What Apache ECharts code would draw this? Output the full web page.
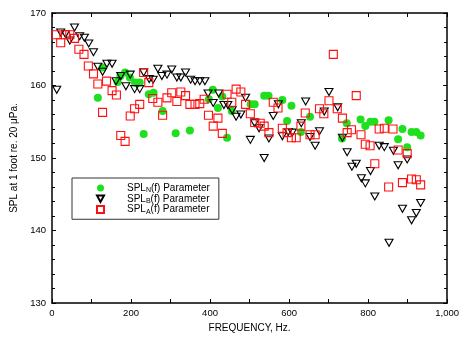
<!DOCTYPE html>
<html><head><meta charset="utf-8">
<script src="https://cdn.jsdelivr.net/npm/echarts@6/dist/echarts.min.js"></script>
<style>html,body{margin:0;padding:0;background:#fff}#c{width:462px;height:339px}</style>
</head><body><div id="c"></div>
<script>
// SPL_N(f) Parameter (green filled circles): [frequency Hz, SPL dB]
const splN = [
[116,158.3],[128,162.5],[166,160.5],[173,161.3],[185,161.8],[197,161.1],[210,160.4],[222,160.4],
[232,153.3],[245,158.8],[257,159.0],[280,156.5],[313,153.4],[349,153.8],[397,158.1],[407,159.4],
[420,156.9],[431,158.5],[443,152.8],[455,156.5],[503,157.4],[513,157.4],[537,158.6],[548,158.6],
[583,158.0],[595,155.1],[606,157.2],[630,153.6],[653,155.7],[734,152.7],[746,154.8],[781,155.3],
[793,154.4],[806,155.0],[816,155.0],[852,155.2],[876,152.6],[887,154.0],[899,151.5],[910,153.6],
[922,153.6],[933,153.1]
];
// SPL_B(f) Parameter (hollow down triangles)
const splB = [
[12,159.4],[22,167.3],[34,167.1],[45,166.2],[57,168.0],[70,166.8],[82,166.6],[93,165.8],
[105,164.6],[116,162.6],[128,161.9],[139,163.0],[152,163.0],[162,160.6],[174,161.3],[187,159.9],
[198,161.5],[209,159.5],[222,159.5],[232,161.8],[246,160.9],[256,160.8],[268,162.3],[278,161.3],
[291,161.5],[303,162.2],[316,161.1],[326,161.1],[338,161.8],[351,160.8],[362,160.6],[374,160.6],
[387,160.6],[395,158.9],[408,157.6],[422,158.9],[435,157.3],[445,157.3],[456,156.6],[466,155.7],
[478,156.0],[490,158.3],[502,152.5],[513,154.8],[524,154.1],[537,150.0],[549,152.7],[560,155.8],
[573,157.4],[583,153.0],[598,153.6],[608,153.5],[631,154.8],[642,157.8],[653,152.9],[666,151.7],
[677,153.7],[689,156.4],[701,159.1],[723,157.0],[735,152.8],[747,150.8],[759,148.8],[770,149.2],
[783,147.2],[793,146.5],[806,148.2],[817,144.7],[828,151.7],[841,151.5],[853,138.3],[864,151.0],
[876,149.0],[887,143.0],[899,149.8],[910,141.4],[922,142.4],[933,143.8]
];
// SPL_A(f) Parameter (hollow red squares)
const splA = [
[10,167.0],[22,165.9],[34,167.0],[45,167.0],[57,166.5],[68,165.0],[81,164.3],[92,162.7],
[105,161.6],[116,160.2],[128,156.3],[138,160.6],[152,159.3],[163,158.7],[174,153.1],[185,152.3],
[198,155.8],[209,156.8],[222,157.4],[232,161.8],[245,160.4],[255,158.2],[268,157.7],[280,155.9],
[291,158.3],[303,159.0],[316,157.8],[326,159.1],[338,158.6],[349,157.4],[362,157.4],[374,157.5],
[385,158.1],[396,155.9],[408,154.4],[420,155.5],[431,153.4],[443,158.8],[455,157.7],[466,159.5],
[478,159.1],[490,157.4],[502,156.1],[513,154.9],[527,154.8],[537,154.4],[549,153.5],[560,157.7],
[572,156.9],[583,154.1],[595,153.5],[606,152.8],[618,152.8],[630,154.4],[641,156.2],[653,153.2],
[666,153.2],[677,156.8],[688,156.1],[701,157.9],[712,164.3],[722,156.8],[735,155.5],[747,153.5],
[758,153.9],[770,158.6],[782,153.2],[793,151.9],[805,151.7],[817,149.2],[828,154.0],[841,154.1],
[852,146.0],[863,154.0],[876,151.1],[887,146.6],[899,150.6],[910,147.1],[922,147.0],[933,146.3]
];
const seriesNames = ['SPL_N', 'SPL_B', 'SPL_A'];
const legendSubs = {SPL_N: 'N', SPL_B: 'B', SPL_A: 'A'};
const xTitle = 'FREQUENCY, Hz.';
const yTitle = 'SPL at 1 foot re. 20 \u03bcPa.';

const FONT = '"Liberation Sans", Arial, sans-serif';
const chart = echarts.init(document.getElementById('c'), null, {renderer: 'canvas'});
const axisCommon = {
  axisLine: {show: true, onZero: false, lineStyle: {color: '#000', width: 1.5}},
  axisTick: {show: true, inside: true, length: 4, lineStyle: {color: '#000', width: 1}},
  splitLine: {show: false}
};
const legendIcons = {SPL_N: 'circle', SPL_B: 'path://M0,0 L10,0 L5,9 Z', SPL_A: 'rect'};
chart.setOption({
  animation: false,
  backgroundColor: '#fff',
  grid: {left: 52, right: 10, top: 13, bottom: 36},
  legend: {
    orient: 'vertical', left: 72, top: 178,
    data: seriesNames.map(n => ({name: n, icon: legendIcons[n]})),
    itemWidth: 7, itemHeight: 7, itemGap: 0, symbolKeepAspect: true,
    borderColor: '#333', borderWidth: 1, padding: [5, 9, 4, 24],
    formatter: function (n) { return '{p|SPL}{s|' + legendSubs[n] + '}{m|(f) Parameter}'; },
    textStyle: {
      fontFamily: FONT, color: '#000',
      rich: {
        p: {fontFamily: FONT, fontSize: 10, lineHeight: 11.5, color: '#000', verticalAlign: 'middle', padding: [0, 0, 0, 18]},
        m: {fontFamily: FONT, fontSize: 10, lineHeight: 11.5, color: '#000', verticalAlign: 'middle'},
        s: {fontFamily: FONT, fontSize: 7, lineHeight: 11.5, color: '#000', verticalAlign: 'bottom'}
      }
    }
  },
  xAxis: [
    Object.assign({type: 'value', min: 0, max: 1000, interval: 200, position: 'bottom',
      name: xTitle, nameLocation: 'middle', nameGap: 20,
      nameTextStyle: {fontFamily: FONT, fontSize: 10, color: '#000'},
      axisLabel: {fontFamily: FONT, fontSize: 9.5, color: '#000', margin: 5},
    }, axisCommon, {minorTick: {show: true, splitNumber: 2, length: 4, lineStyle: {color: '#000'}}}),
    Object.assign({type: 'value', min: 0, max: 1000, interval: 200, position: 'top',
      axisLabel: {show: false}}, axisCommon, {minorTick: {show: true, splitNumber: 2, length: 4, lineStyle: {color: '#000'}}})
  ],
  yAxis: [
    Object.assign({type: 'value', min: 130, max: 170, interval: 10, position: 'left',
      name: yTitle, nameLocation: 'middle', nameGap: 33, nameRotate: 90,
      nameTextStyle: {fontFamily: FONT, fontSize: 10, color: '#000'},
      axisLabel: {fontFamily: FONT, fontSize: 9.5, color: '#000', margin: 6},
    }, axisCommon, {minorTick: {show: true, splitNumber: 5, length: 3, lineStyle: {color: '#000'}}}),
    Object.assign({type: 'value', min: 130, max: 170, interval: 10, position: 'right',
      axisLabel: {show: false}}, axisCommon, {minorTick: {show: true, splitNumber: 5, length: 3, lineStyle: {color: '#000'}}})
  ],
  series: [
    {name: 'SPL_N', type: 'scatter', data: splN, symbol: 'circle', symbolSize: 8,
      itemStyle: {color: '#1ee01e', opacity: 1}, z: 2},
    {name: 'SPL_B', type: 'scatter', data: splB, symbol: 'triangle', symbolRotate: 180, symbolSize: [8, 7],
      itemStyle: {color: 'rgba(255,255,255,0)', borderColor: '#000', borderWidth: 1.1, opacity: 1}, z: 3},
    {name: 'SPL_A', type: 'scatter', data: splA, symbol: 'rect', symbolSize: 8,
      itemStyle: {color: 'rgba(255,255,255,0)', borderColor: '#ff1010', borderWidth: 1.1, opacity: 1}, z: 4}
  ]
});
</script></body></html>
